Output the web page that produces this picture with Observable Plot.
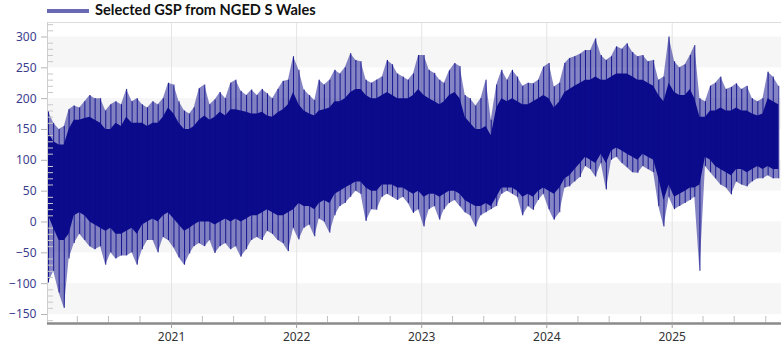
<!DOCTYPE html>
<html>
<head>
<meta charset="utf-8">
<script src="https://cdn.jsdelivr.net/npm/d3@7"></script>
<script src="https://cdn.jsdelivr.net/npm/@observablehq/plot@0.6"></script>
<style>
  html, body { margin: 0; padding: 0; background: #fff; }
  #legend { position: relative; height: 21px; width: 781px; font-family: Lato, "Noto Sans", sans-serif; font-weight: bold; font-size: 14.6px; color: #111; }
  #legend .sw { position: absolute; left: 47px; top: 9px; width: 42px; height: 4px; background: #6a6ab4; }
  #legend .lb { position: absolute; left: 95px; top: 1px; line-height: 18px; white-space: nowrap; }
  #chart svg { display: block; }
</style>
</head>
<body>
<div id="legend"><span class="sw"></span><span class="lb">Selected GSP from NGED S Wales</span></div>
<div id="chart"></div>
<script>
// Series name
const seriesName = "Selected GSP from NGED S Wales";

// Half-month bins (Jan 2020 – first half of Nov 2025) (MW)
// Highest spike in each bin
const spikeHigh = [
  179,160,150,155,182,188,185,195,205,200,200,180,190,195,190,215,195,200,190,185,195,190,200,225, // 2020
  222,195,180,175,185,216,222,190,198,210,200,225,230,212,205,214,205,215,208,200,215,228,230,268, // 2021
  246,214,205,197,230,222,230,246,240,250,273,262,260,230,225,230,235,262,255,240,235,230,240,270, // 2022
  270,246,241,230,225,245,257,252,205,200,188,200,230,165,222,246,230,246,235,220,225,224,230,251, // 2023
  257,219,225,257,265,268,272,278,278,297,270,262,268,284,280,289,275,268,270,260,262,230,235,300, // 2024
  260,250,255,270,286,200,195,220,225,235,215,218,224,215,220,200,195,200,243,235,220              // 2025
];
// Upper edge of the dense band
const bodyHigh = [
  145,130,125,125,150,165,165,168,170,165,160,150,150,160,155,170,160,160,160,155,160,160,170,185,
  175,160,150,150,155,165,172,165,170,178,172,182,182,180,178,175,175,178,172,170,177,182,190,210,
  190,180,175,172,180,182,185,195,195,200,210,215,215,205,200,200,205,210,205,200,200,200,205,215,
  205,200,195,190,195,205,210,200,170,160,150,150,155,140,185,200,195,200,195,190,190,195,200,205,
  200,185,195,210,215,220,225,230,230,235,230,230,235,240,240,240,235,230,230,225,220,205,195,225,
  210,205,205,215,200,170,170,180,180,185,180,180,185,180,180,175,172,175,200,195,190
];
// Lower edge of the dense band
const bodyLow = [
  10,-10,-30,-30,-20,10,15,10,0,-5,-10,-15,-10,-20,-20,-15,-10,-20,-5,0,5,0,10,15,
  5,-5,-15,-10,-5,0,0,0,-5,0,5,0,5,0,5,10,10,15,20,15,10,10,15,20,
  30,25,25,20,30,35,30,45,50,55,60,65,65,55,50,50,60,60,60,55,55,50,45,50,
  40,45,45,40,45,50,50,45,35,30,25,25,30,25,40,55,55,55,50,40,45,40,50,55,
  50,45,55,70,75,85,95,105,100,95,110,95,115,120,115,110,105,100,110,105,100,70,35,60,
  40,45,50,55,55,60,105,100,90,85,80,75,85,85,80,85,90,85,90,85,85
];
// Lowest spike in each bin
const spikeLow = [
  -99,-80,-115,-140,-60,-35,-20,-30,-40,-45,-40,-70,-50,-60,-55,-55,-50,-70,-45,-30,-30,-50,-25,-30,
  -42,-58,-70,-52,-40,-35,-40,-30,-51,-40,-35,-45,-40,-57,-45,-30,-25,-30,-15,-20,-30,-35,-48,-10,
  -29,-10,-5,-24,5,0,-18,10,25,30,40,50,45,1,20,19,40,45,40,35,40,30,14,20,
  -8,20,25,3,20,30,35,25,15,10,-8,10,15,20,25,45,50,45,40,10,25,19,35,45,
  20,3,15,55,57,65,72,90,85,73,95,52,100,105,95,88,80,79,90,85,80,25,-8,40,
  20,25,30,35,40,-80,90,80,70,60,55,44,65,60,57,65,70,70,75,70,70
];

// Axis ticks
const yTicks = [-150,-100,-50,0,50,100,150,200,250,300];
const yMinorTicks = d3.range(-160, 330, 10).filter(v => v % 50 !== 0);
const bandRanges = [[-150,-100],[-50,0],[50,100],[150,200],[250,300]];
const xDomain = [new Date(Date.UTC(2020,0,5)), new Date(Date.UTC(2025,10,16))];
const yDomain = [-164.6, 323.5];

// Bin centre dates
const binDates = [];
for (let y = 2020; y <= 2025; y++) for (let m = 0; m < 12; m++) for (const d of [8, 23]) binDates.push(new Date(Date.UTC(y, m, d)));

const data = spikeHigh.map((h, i) => ({
  date: binDates[i], hi: h, bh: bodyHigh[i], bl: bodyLow[i], lo: spikeLow[i]
}));
const bands = bandRanges.map(([a, b]) => ({a, b}));
const years = d3.utcYear.range(new Date(Date.UTC(2021,0,1)), xDomain[1]);
const quarters = d3.utcMonth.every(3).range(xDomain[0], xDomain[1]).filter(d => d.getUTCMonth() !== 0);

const navy = "#0b0b8c";

const chart = Plot.plot({
  width: 781,
  height: 330,
  marginTop: 1,
  marginBottom: 28,
  marginLeft: 47,
  marginRight: 0,
  style: {fontFamily: "'Noto Sans', sans-serif", fontSize: "12px", background: "#fff"},
  x: {type: "utc", domain: xDomain, label: null},
  y: {domain: yDomain, label: null},
  marks: [
    Plot.rect(bands, {y1: "a", y2: "b", fill: "#f6f6f6"}),
    Plot.ruleX(years, {stroke: "#e4e4e4"}),
    Plot.ruleY([yDomain[1]], {stroke: "#dcdcdc"}),
    Plot.ruleX([xDomain[0]], {stroke: "#cfcfcf"}),
    Plot.areaY(data, {x: "date", y1: "lo", y2: "hi", fill: navy, fillOpacity: 0.5}),
    Plot.areaY(data, {x: "date", y1: "bl", y2: "bh", fill: navy}),
    Plot.ruleX(data, {x: "date", y1: "lo", y2: "hi", stroke: navy, strokeWidth: 1, strokeOpacity: 0.9}),
    Plot.ruleY([yDomain[0]], {stroke: "#8a8a8a", strokeWidth: 2.5}),
    Plot.axisY({ticks: yTicks, tickSize: 6, tickPadding: 5, fill: "#3d3d8e", stroke: "#b5b5b5", fontSize: 12}),
    Plot.axisY({ticks: yMinorTicks, tickSize: 6, text: null, dx: 6, stroke: "#c8c8c8"}),
    Plot.axisX({ticks: years, tickSize: 5, tickPadding: 4, tickFormat: "%Y", fill: "#333", stroke: "#a0a0a0", fontSize: 12}),
    Plot.axisX({ticks: quarters, tickSize: 6, text: null, dy: -7, stroke: "#c0c0c0"})
  ]
});
document.getElementById("chart").appendChild(chart);
</script>
</body>
</html>
